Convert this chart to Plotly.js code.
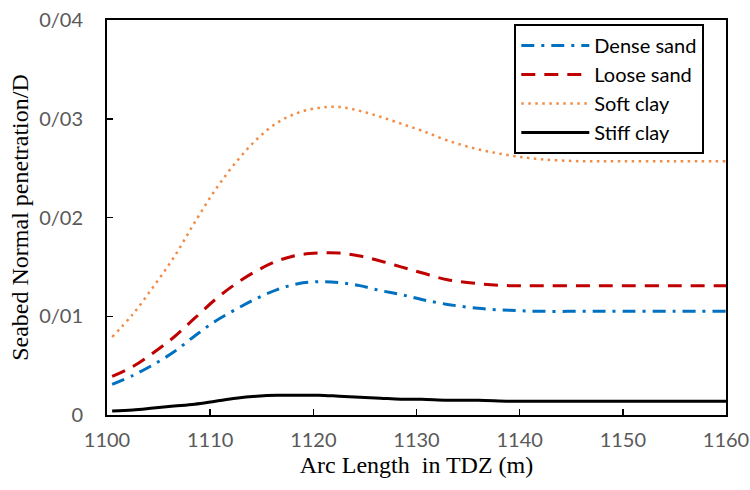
<!DOCTYPE html>
<html>
<head>
<meta charset="utf-8">
<script src="https://cdn.plot.ly/plotly-3.0.1.min.js"></script>
<style>html,body{margin:0;padding:0;background:#fff;}#chart{width:750px;height:490px;}</style>
</head>
<body>
<div id="chart"></div>
<script>
const arcLength = [1100.5,1102.5,1104.5,1106.5,1108.5,1110.5,1112.5,1114.5,1116.5,1118.5,1120.5,1122.5,1124.5,1126.5,1128.5,1130.5,1133,1136,1139,1142,1146,1150,1155,1160];
const denseSand = [0.0031,0.0040,0.0051,0.0064,0.0080,0.0095,0.0107,0.0118,0.0127,0.0133,0.0135,0.0134,0.0131,0.0126,0.0122,0.0117,0.0112,0.0108,0.0106,0.0105,0.0105,0.0105,0.0105,0.0105];
const looseSand = [0.0039,0.0049,0.0063,0.0079,0.0098,0.0117,0.0133,0.0146,0.0156,0.0162,0.0164,0.0164,0.0161,0.0156,0.0150,0.0144,0.0137,0.0133,0.0131,0.0131,0.0131,0.0131,0.0131,0.0131];
const softClay = [0.0079,0.0102,0.0130,0.0160,0.0195,0.0228,0.0256,0.0279,0.0296,0.0306,0.0311,0.0312,0.0308,0.0302,0.0295,0.0288,0.0278,0.0269,0.0263,0.0259,0.0257,0.0257,0.0257,0.0257];
const stiffClay = [0.0004,0.0005,0.0007,0.0009,0.0011,0.0014,0.0017,0.0019,0.0020,0.0020,0.0020,0.0019,0.0018,0.0017,0.0016,0.0016,0.0015,0.0015,0.0014,0.0014,0.0014,0.0014,0.0014,0.0014];
const seriesNames = ["Dense sand","Loose sand","Soft clay","Stiff clay"];
const yTickVals = [0,0.01,0.02,0.03,0.04];
const yTickText = ["0","0/01","0/02","0/03","0/04"];
const xTickVals = [1100,1110,1120,1130,1140,1150,1160];

const traces = [
  {x: arcLength, y: denseSand, name: seriesNames[0], mode:"lines", line:{color:"#0070C0", width:3, dash:"13px,7px,3px,7px", shape:"spline"}},
  {x: arcLength, y: looseSand, name: seriesNames[1], mode:"lines", line:{color:"#C00000", width:3, dash:"14px,9px", shape:"spline"}},
  {x: arcLength, y: softClay, name: seriesNames[2], mode:"lines", line:{color:"#F28C45", width:2.5, dash:"2.5px,4.5px", shape:"spline"}},
  {x: arcLength, y: stiffClay, name: seriesNames[3], mode:"lines", line:{color:"#000000", width:3, shape:"spline"}}
];

const layout = {
  width:750, height:490,
  margin:{l:107, r:24, t:20, b:75},
  paper_bgcolor:"#fff", plot_bgcolor:"#fff",
  showlegend:true,
  legend:{x:0.658, y:0.99, xanchor:"left", yanchor:"top", bgcolor:"#fff", bordercolor:"#000", borderwidth:2,
          font:{family:"Lato, 'Noto Sans', sans-serif", size:20, color:"#000"}, tracegroupgap:0, itemwidth:68},
  xaxis:{range:[1100,1160], tickvals:xTickVals, ticks:"inside", ticklen:6, tickwidth:1.5, tickcolor:"#000",
         showline:true, linecolor:"#000", linewidth:2, mirror:true, showgrid:false, zeroline:false,
         tickfont:{family:"Lato, 'Noto Sans', sans-serif", size:20, color:"#595959"}, ticklabelstandoff:6,
         title:{text:"Arc Length  in TDZ (m)", font:{family:"'Liberation Serif', 'Times New Roman', serif", size:24, color:"#000"}, standoff:6}},
  yaxis:{range:[0,0.04], tickvals:yTickVals, ticktext:yTickText, ticks:"inside", ticklen:6, tickwidth:1.5, tickcolor:"#000",
         showline:true, linecolor:"#000", linewidth:2, mirror:true, showgrid:false, zeroline:false,
         tickfont:{family:"Lato, 'Noto Sans', sans-serif", size:20, color:"#595959"}, ticklabelstandoff:18,
         title:{text:"Seabed Normal penetration/D", font:{family:"'Liberation Serif', 'Times New Roman', serif", size:24, color:"#000"}, standoff:4}}
};
Plotly.newPlot("chart", traces, layout, {displayModeBar:false, staticPlot:true});
</script>
</body>
</html>
